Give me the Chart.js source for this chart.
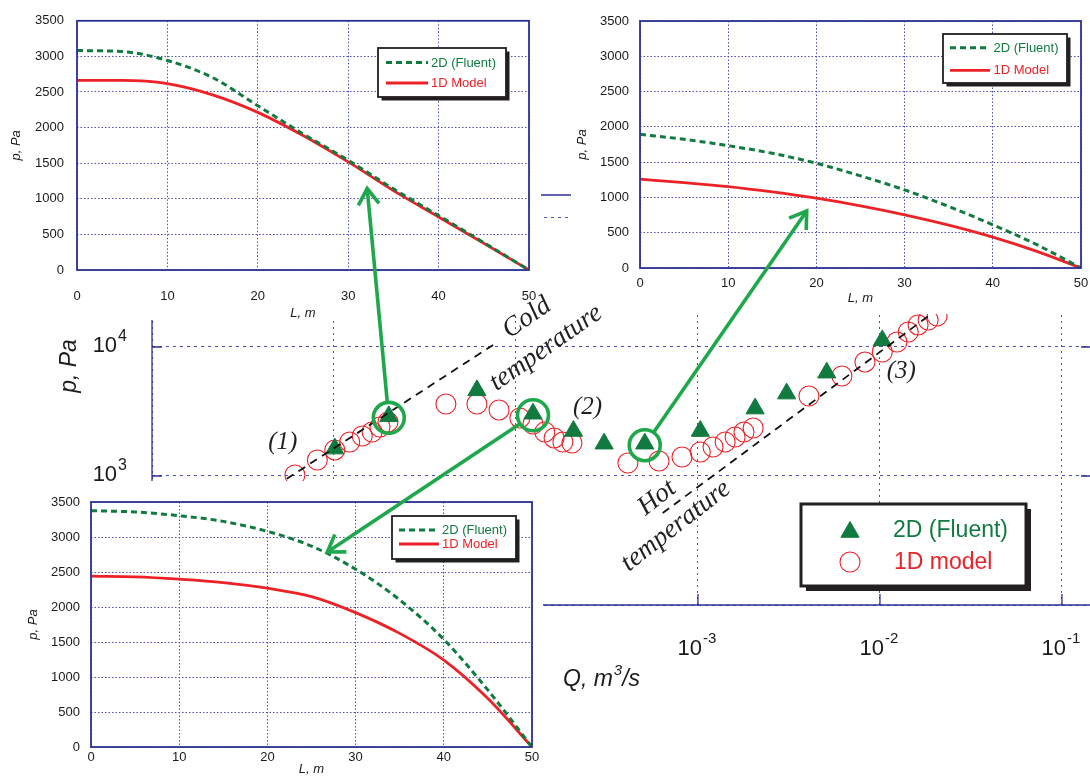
<!DOCTYPE html>
<html>
<head>
<meta charset="utf-8">
<script src="https://cdn.jsdelivr.net/npm/chart.js@4.4.1/dist/chart.umd.min.js"></script>
<style>
  html, body { margin: 0; padding: 0; background: #fff; }
  #stage { position: relative; width: 1090px; height: 776px; overflow: hidden; background: #fff; }
  .layer { position: absolute; }
  .layer canvas { display: block; }
  .inset { background: #fff; }
  #overlayWrap { pointer-events: none; }
</style>
</head>
<body>
<div id="stage">
  <div class="layer" style="left:0;top:0;width:1090px;height:776px"><canvas id="mainChart" width="1090" height="776"></canvas></div>
  <div class="layer inset" style="left:0;top:0;width:541px;height:320px"><canvas id="insetA" width="541" height="320"></canvas></div>
  <div class="layer inset" style="left:571px;top:0;width:519px;height:314px"><canvas id="insetC" width="519" height="314"></canvas></div>
  <div class="layer inset" style="left:0;top:481px;width:543px;height:295px"><canvas id="insetB" width="543" height="295"></canvas></div>
  <div class="layer" id="overlayWrap" style="left:0;top:0;width:1090px;height:776px"><canvas id="overlay" width="1090" height="776"></canvas></div>
</div>
<script>
// ---------- Pressure drop p versus flow rate Q (log-log) ----------
const fluentQ = [1.01e-5, 2.0e-5, 6.1e-5, 1.24e-4, 2.07e-4, 3.05e-4, 5.1e-4, 1.03e-3, 2.06e-3, 3.07e-3, 5.1e-3, 1.03e-2];
const fluentP = [1630, 2900, 4610, 3040, 2230, 1780, 1780, 2230, 3330, 4350, 6320, 11250];

const modelQ = [6.1e-6, 8.1e-6, 1.01e-5, 1.22e-5, 1.43e-5, 1.62e-5, 1.79e-5, 1.98e-5,
                4.12e-5, 6.1e-5, 8.07e-5, 1.05e-4, 1.24e-4, 1.44e-4, 1.62e-4, 1.81e-4, 2.03e-4,
                4.12e-4, 6.11e-4, 8.17e-4, 1.03e-3, 1.21e-3, 1.41e-3, 1.6e-3, 1.79e-3, 2.01e-3,
                4.07e-3, 6.18e-3, 8.27e-3, 1.03e-2, 1.24e-2, 1.43e-2, 1.62e-2, 1.84e-2, 2.06e-2];
const modelP = [1018, 1330, 1592, 1836, 2042, 2193, 2398, 2624,
                3614, 3614, 3251, 2818, 2531, 2193, 1972, 1836, 1803,
                1262, 1307, 1403, 1535, 1679, 1836, 2007, 2193, 2355,
                4169, 5957, 7656, 9141, 10935, 13069, 14820, 16190, 17390];

// asymptotes for the cold and hot temperature regimes
const coldLineQ = [5.5e-6, 7.9e-5];
const coldLineP = [950, 10900];
const hotLineQ = [6.4e-4, 1.88e-2];
const hotLineP = [516, 17700];

const qDecades = [1e-6, 1e-5, 1e-4, 1e-3, 1e-2, 1e-1];
const pDecades = [1e2, 1e3, 1e4, 1e5];
const Q_RANGE = [1e-6, 0.1426];
const P_RANGE = [100, 150660];

// ---------- Pressure profiles along the tube, p(L) ----------
const lengthL = [0, 5, 10, 15, 20, 25, 30, 35, 40, 45, 50];
const profileA2D = [3082, 3068, 2943, 2702, 2307, 1912, 1541, 1140, 765, 385, 0];
const profileA1D = [2664, 2664, 2618, 2460, 2214, 1889, 1518, 1115, 745, 375, 0];
const profileB2D = [3376, 3357, 3304, 3223, 3080, 2870, 2540, 2101, 1537, 812, 0];
const profileB1D = [2440, 2430, 2397, 2349, 2268, 2149, 1920, 1623, 1241, 692, 0];
const profileC2D = [1894, 1823, 1733, 1625, 1484, 1305, 1107, 871, 612, 330, 0];
const profileC1D = [1258, 1211, 1154, 1079, 989, 881, 754, 608, 438, 236, 0];
const lTicks = [0, 10, 20, 30, 40, 50];
const pLinTicks = [0, 500, 1000, 1500, 2000, 2500, 3000, 3500];

const seriesNames = ['2D (Fluent)', '1D model'];
const profileNames = ['2D (Fluent)', '1D Model'];

// highlighted Fluent runs and the profile each one expands into
const links = [
  { point: 1, inset: 'A', L: 32.1, p: 1143 },
  { point: 3, inset: 'B', L: 26.8, p: 2786 },
  { point: 6, inset: 'C', L: 18.9, p: 808 }
];

// ---------- styling ----------
const SANS = '"Liberation Sans", Arial, sans-serif';
const SERIF = '"Liberation Serif", "Times New Roman", serif';
const AXIS = '#2e3192';
const GRID = '#4a4fb8';
const GREEN_DARK = '#117a3f';
const RED = '#ec2227';
const HILITE = '#1ea84b';
const INK = '#1a1a1a';

function pairs(xs, ys) { return xs.map((x, i) => ({ x, y: ys[i] })); }

function drawSup(ctx, base, exp, x, y, align, baseSize, expSize, rise, style) {
  const st = style || '';
  ctx.font = `${st} ${baseSize}px ${SANS}`;
  const wb = ctx.measureText(base).width;
  ctx.font = `${st} ${expSize}px ${SANS}`;
  const we = ctx.measureText(exp).width;
  let x0 = x;
  if (align === 'right') x0 = x - wb - we - 1;
  else if (align === 'center') x0 = x - (wb + we + 1) / 2;
  ctx.textAlign = 'left';
  ctx.textBaseline = 'alphabetic';
  ctx.font = `${st} ${baseSize}px ${SANS}`;
  ctx.fillText(base, x0, y);
  ctx.font = `${st} ${expSize}px ${SANS}`;
  ctx.fillText(exp, x0 + wb + 1, y - rise);
  return x0 + wb + 1 + we;
}

function legendFrame(ctx, x, y, w, h, shadow, lw) {
  ctx.save();
  ctx.fillStyle = '#231f20';
  ctx.fillRect(x + shadow, y + shadow, w, h);
  ctx.fillStyle = '#fff';
  ctx.fillRect(x, y, w, h);
  ctx.strokeStyle = '#231f20';
  ctx.lineWidth = lw;
  ctx.strokeRect(x, y, w, h);
  ctx.restore();
}

// keep a chart's plotting area on a fixed pixel box
function pinArea(chart, want) {
  for (let i = 0; i < 4; i++) {
    const a = chart.chartArea;
    const p = chart.options.layout.padding;
    const dl = want.left - a.left, dt = want.top - a.top;
    const dr = a.right - want.right, db = a.bottom - want.bottom;
    if (Math.abs(dl) + Math.abs(dt) + Math.abs(dr) + Math.abs(db) < 0.3) break;
    chart.options.layout.padding = {
      left: p.left + dl, top: p.top + dt, right: p.right + dr, bottom: p.bottom + db
    };
    chart.update();
  }
}

// ---------- main chart decorations ----------
const mainDecor = {
  id: 'mainDecor',
  afterDraw(chart) {
    const { ctx, chartArea: a, scales: { x, y } } = chart;
    ctx.save();
    // solid frame and inner tick marks
    ctx.strokeStyle = AXIS;
    ctx.lineWidth = 1.3;
    ctx.beginPath();
    ctx.moveTo(a.left, a.top); ctx.lineTo(a.right, a.top);
    ctx.moveTo(a.left, a.top); ctx.lineTo(a.left, a.bottom); ctx.lineTo(a.right, a.bottom);
    pDecades.forEach(v => {
      const py = y.getPixelForValue(v);
      ctx.moveTo(a.left, py); ctx.lineTo(a.left + 10, py);
      ctx.moveTo(a.right - 9, py); ctx.lineTo(a.right, py);
    });
    qDecades.forEach(v => {
      const px = x.getPixelForValue(v);
      ctx.moveTo(px, a.bottom); ctx.lineTo(px, a.bottom - 11);
    });
    ctx.stroke();

    // decade tick labels
    ctx.fillStyle = INK;
    pDecades.forEach(v => {
      const py = y.getPixelForValue(v);
      drawSup(ctx, '10', String(Math.round(Math.log10(v))), a.left - 25, py + 5, 'right', 22, 16, 11);
    });
    qDecades.forEach(v => {
      const px = x.getPixelForValue(v);
      drawSup(ctx, '10', String(Math.round(Math.log10(v))), px - 1, a.bottom + 50, 'center', 22, 15, 12);
    });

    // axis titles
    ctx.save();
    ctx.translate(70, 366);
    ctx.rotate(-Math.PI / 2);
    ctx.font = `italic 23px ${SANS}`;
    ctx.textAlign = 'center';
    ctx.textBaseline = 'middle';
    ctx.fillText('p, Pa', 0, 0);
    ctx.restore();
    const xEnd = drawSup(ctx, 'Q, m', '3', 563, 686, 'left', 23, 15, 11, 'italic');
    ctx.font = `italic 23px ${SANS}`;
    ctx.fillText('/s', xEnd, 686);

    // legend
    legendFrame(ctx, 801, 504, 225, 82, 5, 3);
    const ds = chart.data.datasets;
    const tri = ds.find(d => d.pointStyle === 'triangle');
    const circ = ds.find(d => d.pointStyle === 'circle');
    ctx.fillStyle = tri.backgroundColor; ctx.strokeStyle = tri.borderColor; ctx.lineWidth = 1;
    Chart.helpers.drawPoint(ctx, { pointStyle: 'triangle', radius: tri.pointRadius, rotation: 0, borderWidth: 1 }, 850, 532);
    ctx.fillStyle = 'rgba(0,0,0,0)'; ctx.strokeStyle = circ.borderColor; ctx.lineWidth = circ.borderWidth;
    Chart.helpers.drawPoint(ctx, { pointStyle: 'circle', radius: circ.pointRadius, rotation: 0, borderWidth: circ.borderWidth }, 850, 562);
    ctx.font = `23px ${SANS}`;
    ctx.textAlign = 'left';
    ctx.textBaseline = 'middle';
    ctx.fillStyle = GREEN_DARK;
    ctx.fillText(tri.label, 893, 531);
    ctx.fillStyle = RED;
    ctx.fillText(circ.label, 894, 563);
    ctx.restore();
  }
};

const mainChart = new Chart(document.getElementById('mainChart'), {
  type: 'scatter',
  data: {
    datasets: [
      { label: 'cold', data: pairs(coldLineQ, coldLineP), showLine: true, pointRadius: 0,
        borderColor: '#111', borderWidth: 1.8, borderDash: [8, 6], fill: false },
      { label: 'hot', data: pairs(hotLineQ, hotLineP), showLine: true, pointRadius: 0,
        borderColor: '#111', borderWidth: 1.8, borderDash: [8, 6], fill: false },
      { label: seriesNames[0], data: pairs(fluentQ, fluentP), pointStyle: 'triangle', pointRadius: 10.5,
        backgroundColor: GREEN_DARK, borderColor: GREEN_DARK, borderWidth: 1 },
      { label: seriesNames[1], data: pairs(modelQ, modelP), pointStyle: 'circle', pointRadius: 10,
        backgroundColor: 'rgba(0,0,0,0)', borderColor: RED, borderWidth: 1.1 }
    ]
  },
  options: {
    responsive: false, animation: false, devicePixelRatio: 1, events: [],
    layout: { autoPadding: false, padding: { top: 195, left: 0, right: 0, bottom: 0 } },
    plugins: { legend: { display: false }, tooltip: { enabled: false } },
    scales: {
      x: {
        type: 'logarithmic', position: 'bottom', min: Q_RANGE[0], max: Q_RANGE[1],
        afterBuildTicks: s => { s.ticks = qDecades.map(v => ({ value: v })); },
        afterFit: s => { s.height = 171; },
        ticks: { display: false },
        grid: { color: GRID, lineWidth: 1, drawTicks: false },
        border: { display: false, dash: [2, 4] }
      },
      y: {
        type: 'logarithmic', position: 'left', min: P_RANGE[0], max: P_RANGE[1],
        afterBuildTicks: s => { s.ticks = pDecades.map(v => ({ value: v })); },
        afterFit: s => { s.width = 152; },
        ticks: { display: false },
        grid: { color: GRID, lineWidth: 1, drawTicks: false },
        border: { display: false, dash: [3, 4] }
      }
    }
  },
  plugins: [mainDecor]
});
pinArea(mainChart, { left: 152, top: 195, right: 1090, bottom: 605 });

// ---------- profile insets ----------
function profileChart(id, p2d, p1d, g) {
  const decor = {
    id: 'frame' + id,
    afterDraw(chart) {
      const { ctx, chartArea: a } = chart;
      ctx.save();
      ctx.strokeStyle = AXIS;
      ctx.lineWidth = 1.8;
      ctx.strokeRect(a.left, a.top, a.right - a.left, a.bottom - a.top);
      // legend
      const L = g.legend;
      legendFrame(ctx, L.x, L.y, L.w, L.h, 3.5, 1.8);
      chart.data.datasets.forEach((d, i) => {
        const ry = L.rows[i];
        ctx.strokeStyle = d.borderColor;
        ctx.lineWidth = d.borderWidth;
        ctx.setLineDash(d.borderDash || []);
        ctx.beginPath();
        ctx.moveTo(L.x0, ry); ctx.lineTo(L.x1, ry);
        ctx.stroke();
        ctx.setLineDash([]);
        ctx.fillStyle = d.borderColor;
        ctx.font = `13px ${SANS}`;
        ctx.textAlign = 'left';
        ctx.textBaseline = 'middle';
        ctx.fillText(d.label, L.tx, ry + 0.5);
      });
      ctx.restore();
    }
  };
  const chart = new Chart(document.getElementById(id), {
    type: 'line',
    data: {
      datasets: [
        { label: profileNames[0], data: pairs(lengthL, p2d), borderColor: GREEN_DARK, borderWidth: 3,
          borderDash: [6, 4], pointRadius: 0, cubicInterpolationMode: 'monotone', fill: false },
        { label: profileNames[1], data: pairs(lengthL, p1d), borderColor: RED, borderWidth: 2.8,
          pointRadius: 0, cubicInterpolationMode: 'monotone', fill: false }
      ]
    },
    options: {
      responsive: false, animation: false, devicePixelRatio: 1, events: [],
      layout: { autoPadding: false, padding: { top: g.area.top, right: g.w - g.area.right, left: 0, bottom: 0 } },
      plugins: { legend: { display: false }, tooltip: { enabled: false } },
      scales: {
        x: {
          type: 'linear', min: 0, max: 50,
          afterBuildTicks: s => { s.ticks = lTicks.map(v => ({ value: v })); },
          afterFit: s => { s.height = g.h - g.area.bottom; },
          // label drop below the axis is set through the line height so the
          // horizontal padding of the scale stays small
          ticks: { color: INK, font: { family: SANS, size: 13, lineHeight: g.xdrop / 6.5 },
                   padding: 0, maxRotation: 0, callback: v => String(v) },
          grid: { color: GRID, lineWidth: 1, drawTicks: false },
          border: { display: false, dash: [1.5, 2] },
          title: { display: true, text: 'L, m', color: INK,
                   font: { family: SANS, size: 13, style: 'italic', lineHeight: 1 },
                   padding: { top: 0, bottom: g.xtitle } }
        },
        y: {
          type: 'linear', min: 0, max: 3500,
          afterBuildTicks: s => { s.ticks = pLinTicks.map(v => ({ value: v })); },
          afterFit: s => { s.width = g.area.left; },
          ticks: { color: INK, font: { family: SANS, size: 13 }, padding: g.ypad,
                   callback: v => String(v) },
          grid: { color: GRID, lineWidth: 1, drawTicks: false },
          border: { display: false, dash: [1.5, 2] },
          title: { display: true, text: 'p, Pa', color: INK,
                   font: { family: SANS, size: 13, style: 'italic', lineHeight: 1 },
                   padding: { top: g.ytitle, bottom: 0 } }
        }
      }
    },
    plugins: [decor]
  });
  pinArea(chart, g.area);
  return chart;
}

// xdrop: distance from the axis line to the middle of the tick labels
const insets = {
  A: { chart: profileChart('insetA', profileA2D, profileA1D, {
        w: 541, h: 320, area: { left: 77, top: 19, right: 529, bottom: 270 },
        xdrop: 26, ypad: 13, xtitle: 0.5, ytitle: 9.5,
        legend: { x: 378, y: 48, w: 128, h: 49, rows: [62.5, 83], x0: 386, x1: 428, tx: 431 } }),
       dx: 0, dy: 0 },
  C: { chart: profileChart('insetC', profileC2D, profileC1D, {
        w: 519, h: 314, area: { left: 69, top: 21, right: 510, bottom: 268 },
        xdrop: 15, ypad: 11, xtitle: 9.5, ytitle: 4.5,
        legend: { x: 372, y: 34, w: 124, h: 49, rows: [47.7, 70.3], x0: 379, x1: 419, tx: 422.5 } }),
       dx: 571, dy: 0 },
  B: { chart: profileChart('insetB', profileB2D, profileB1D, {
        w: 543, h: 295, area: { left: 91, top: 21, right: 532, bottom: 266 },
        xdrop: 10, ypad: 11, xtitle: 0, ytitle: 26.5,
        legend: { x: 392, y: 35, w: 124, h: 43, rows: [49, 63], x0: 399, x1: 439, tx: 442 } }),
       dx: 0, dy: 481 }
};

// ---------- overlay: highlighted runs, arrows and annotations ----------
const ov = document.getElementById('overlay').getContext('2d');
const mx = mainChart.scales.x, my = mainChart.scales.y;
const R_HI = 15.5;

links.forEach(k => {
  const cx = mx.getPixelForValue(fluentQ[k.point]);
  const cy = my.getPixelForValue(fluentP[k.point]) + 1.5;
  const ins = insets[k.inset];
  const tx = ins.chart.scales.x.getPixelForValue(k.L) + ins.dx;
  const ty = ins.chart.scales.y.getPixelForValue(k.p) + ins.dy;
  const len = Math.hypot(tx - cx, ty - cy);
  const ux = (tx - cx) / len, uy = (ty - cy) / len;

  ov.save();
  ov.strokeStyle = HILITE;
  ov.lineWidth = 3.6;
  ov.beginPath();
  ov.arc(cx, cy, R_HI, 0, Math.PI * 2);
  ov.stroke();

  ov.beginPath();
  ov.moveTo(cx + ux * R_HI, cy + uy * R_HI);
  ov.lineTo(tx, ty);
  ov.stroke();

  const head = 19, spread = 0.58;
  const back = Math.atan2(-uy, -ux);
  ov.beginPath();
  ov.moveTo(tx + head * Math.cos(back + spread), ty + head * Math.sin(back + spread));
  ov.lineTo(tx, ty);
  ov.lineTo(tx + head * Math.cos(back - spread), ty + head * Math.sin(back - spread));
  ov.lineJoin = 'miter';
  ov.stroke();
  ov.restore();
});

// regime labels (1), (2), (3) next to their Fluent runs
const regimeTags = [
  { text: '(1)', point: 0, ox: -52, oy: -6 },
  { text: '(2)', point: 4, ox: 14, oy: -24 },
  { text: '(3)', point: 11, ox: 19, oy: 31 }
];
ov.fillStyle = '#231f20';
ov.textAlign = 'center';
ov.textBaseline = 'middle';
regimeTags.forEach(t => {
  ov.font = `italic 25px ${SERIF}`;
  ov.fillText(t.text, mx.getPixelForValue(fluentQ[t.point]) + t.ox, my.getPixelForValue(fluentP[t.point]) + t.oy);
});

function rotatedText(text, x, y, deg, size) {
  ov.save();
  ov.translate(x, y);
  ov.rotate(deg * Math.PI / 180);
  ov.font = `italic ${size}px ${SERIF}`;
  ov.fillStyle = '#231f20';
  ov.textAlign = 'center';
  ov.textBaseline = 'middle';
  ov.fillText(text, 0, 0);
  ov.restore();
}
rotatedText('Cold', 527, 318, -35, 27);
rotatedText('temperature', 546, 348, -35, 27);
rotatedText('Hot', 657, 498, -38, 27);
rotatedText('temperature', 676, 526, -38, 27);
</script>
</body>
</html>
